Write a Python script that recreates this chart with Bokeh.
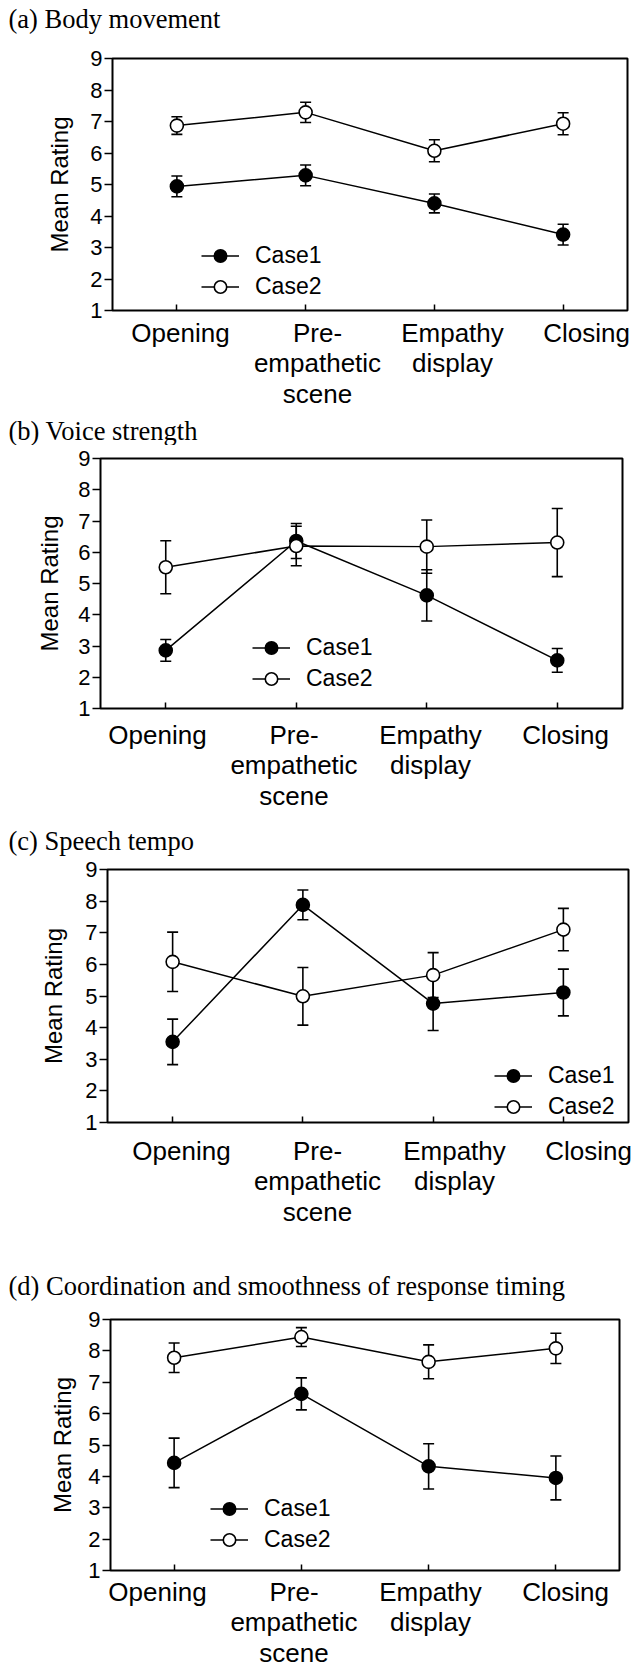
from bokeh.plotting import figure
from bokeh.layouts import column
from bokeh.models import (Range1d, FixedTicker, Whisker, TeeHead, ColumnDataSource,
                          Legend, LegendItem, LinearAxis)
from bokeh.core.properties import value
from bokeh.embed import file_html
from bokeh.resources import INLINE

categories = ["Opening", "Pre-\nempathetic\nscene", "Empathy\ndisplay", "Closing"]
cat_pos = [1, 2, 3, 4]
y_ticks = [1, 2, 3, 4, 5, 6, 7, 8, 9]
series_names = ["Case1", "Case2"]
panel_titles = ["(a) Body movement", "(b) Voice strength", "(c) Speech tempo",
                "(d) Coordination and smoothness of response timing"]

a_case1 = [4.94, 5.29, 4.40, 3.41]
a_err1 = [0.33, 0.33, 0.30, 0.33]
a_case2 = [6.87, 7.29, 6.07, 6.93]
a_err2 = [0.28, 0.32, 0.35, 0.35]

b_case1 = [2.86, 6.36, 4.62, 2.54]
b_err1 = [0.35, 0.56, 0.82, 0.38]
b_case2 = [5.52, 6.20, 6.18, 6.31]
b_err2 = [0.85, 0.63, 0.85, 1.09]

c_case1 = [3.55, 7.88, 4.76, 5.11]
c_err1 = [0.72, 0.47, 0.85, 0.74]
c_case2 = [6.08, 4.99, 5.66, 7.10]
c_err2 = [0.94, 0.91, 0.71, 0.67]

d_case1 = [4.43, 6.63, 4.32, 3.95]
d_err1 = [0.79, 0.51, 0.72, 0.70]
d_case2 = [7.78, 8.44, 7.65, 8.08]
d_err2 = [0.47, 0.30, 0.54, 0.48]

SANS = "Liberation Sans"
SERIF = "Liberation Serif"
W = 632

# layout per panel:
#  th: height of title strip, tc: title text centre (from strip top)
#  top/left/fw/fh/bottom: plot borders and frame size (pixels)
#  leg: legend location from frame bottom-left, xs: x label standoff, ys: y label standoff
#  lc: pixel centres of the category labels (they are not centred on the ticks)
layouts = [
    dict(th=46, tc=18, top=12, left=112, fw=515, fh=252, bottom=104, leg=(89, 8), xs=7, ys=14,
         lc=[180, 317, 452, 586]),
    dict(th=31, tc=16, top=13, left=100, fw=522, fh=250, bottom=112, leg=(152, 14), xs=11, ys=12,
         lc=[157, 293.5, 430, 565]),
    dict(th=37, tc=20, top=12, left=107, fw=521, fh=253, bottom=118, leg=(387, 0), xs=13, ys=15,
         lc=[181, 317, 454, 588]),
    dict(th=67, tc=45, top=12, left=110, fw=509, fh=251, bottom=99, leg=(100, 15), xs=6, ys=9,
         lc=[157, 293.5, 430, 565]),
]

data = [
    (a_case1, a_err1, a_case2, a_err2),
    (b_case1, b_err1, b_case2, b_err2),
    (c_case1, c_err1, c_case2, c_err2),
    (d_case1, d_err1, d_case2, d_err2),
]

X0, X1 = 0.5, 4.5


def make_title(title, lay):
    t = figure(frame_width=W, frame_height=lay["th"], output_backend="svg",
               toolbar_location=None, frame_align=False,
               x_range=Range1d(0, W), y_range=Range1d(lay["th"], 0), min_border=0,
               x_axis_location=None, y_axis_location=None, outline_line_color=None)
    t.xgrid.visible = False
    t.ygrid.visible = False
    t.background_fill_color = "white"
    t.border_fill_color = "white"
    t.text(x=[8], y=[lay["tc"]], text=[title], text_font=value(SERIF),
           text_font_size=value("26.5px"), text_baseline="middle", text_align="left",
           text_color="black")
    return t


def make_panel(vals, lay):
    c1, e1, c2, e2 = vals
    p = figure(frame_width=lay["fw"], frame_height=lay["fh"], output_backend="svg",
               toolbar_location=None, frame_align=False,
               x_range=Range1d(X0, X1), y_range=Range1d(1, 9),
               min_border_left=lay["left"], min_border_top=lay["top"],
               min_border_right=W - lay["left"] - lay["fw"],
               min_border_bottom=lay["bottom"])
    p.xgrid.visible = False
    p.ygrid.visible = False
    p.outline_line_color = "black"
    p.outline_line_width = 2
    p.background_fill_color = "white"
    p.border_fill_color = "white"

    # axis 1: tick marks only, at the categories
    xa = p.xaxis[0]
    xa.ticker = FixedTicker(ticks=cat_pos)
    xa.major_label_overrides = {k: "" for k in cat_pos}
    xa.major_label_text_font_size = "1px"
    xa.major_label_standoff = 0
    xa.axis_line_color = None
    xa.major_tick_in = 6
    xa.major_tick_out = 0
    xa.major_tick_line_width = 1.5
    xa.minor_tick_line_color = None

    # axis 2: the category labels, placed where the reference puts them
    px_per_unit = lay["fw"] / (X1 - X0)
    label_pos = [X0 + (c - lay["left"]) / px_per_unit for c in lay["lc"]]
    xl = LinearAxis(ticker=FixedTicker(ticks=label_pos),
                    major_label_overrides={k: v for k, v in zip(label_pos, categories)},
                    axis_line_color=None, major_tick_line_color=None,
                    major_tick_in=0, major_tick_out=0, minor_tick_line_color=None,
                    major_label_text_font=SANS, major_label_text_font_size="26px",
                    major_label_text_line_height=1.02, major_label_text_color="black",
                    major_label_standoff=lay["xs"])
    p.add_layout(xl, "below")

    ya = p.yaxis[0]
    ya.ticker = FixedTicker(ticks=y_ticks)
    ya.axis_line_color = None
    ya.major_tick_in = 0
    ya.major_tick_out = 8
    ya.major_tick_line_width = 1.5
    ya.minor_tick_line_color = None
    ya.major_label_text_font = SANS
    ya.major_label_text_font_size = "22px"
    ya.major_label_text_color = "black"
    ya.major_label_standoff = 2
    ya.axis_label = "Mean Rating"
    ya.axis_label_text_font = SANS
    ya.axis_label_text_font_size = "24px"
    ya.axis_label_text_font_style = "normal"
    ya.axis_label_text_color = "black"
    ya.axis_label_standoff = lay["ys"]

    sources = []
    for vals_, errs, fill in ((c1, e1, "black"), (c2, e2, "white")):
        src = ColumnDataSource(dict(x=cat_pos, y=vals_,
                                    upper=[v + e for v, e in zip(vals_, errs)],
                                    lower=[v - e for v, e in zip(vals_, errs)]))
        w = Whisker(source=src, base="x", upper="upper", lower="lower",
                    line_color="black", line_width=1.6,
                    upper_head=TeeHead(size=11, line_color="black", line_width=1.6),
                    lower_head=TeeHead(size=11, line_color="black", line_width=1.6))
        p.add_layout(w)
        sources.append((src, fill))

    lines = [p.line("x", "y", source=src, line_color="black", line_width=1.5)
             for src, fill in sources]
    marks = [p.scatter("x", "y", source=src, size=13, marker="circle",
                       fill_color=fill, line_color="black", line_width=1.6)
             for src, fill in sources]

    legend = Legend(items=[LegendItem(label=series_names[0], renderers=[lines[0], marks[0]]),
                           LegendItem(label=series_names[1], renderers=[lines[1], marks[1]])],
                    location=lay["leg"], glyph_width=38, glyph_height=31, label_height=31,
                    label_standoff=16, padding=0, margin=0, spacing=0,
                    border_line_color=None, background_fill_alpha=0,
                    label_text_font=SANS, label_text_font_size="23px",
                    label_text_color="black")
    p.add_layout(legend)
    return p


children = []
for t, d, l in zip(panel_titles, data, layouts):
    children.append(make_title(t, l))
    children.append(make_panel(d, l))
page = column(*children, spacing=0)
open("out.html", "w").write(file_html(page, INLINE))
